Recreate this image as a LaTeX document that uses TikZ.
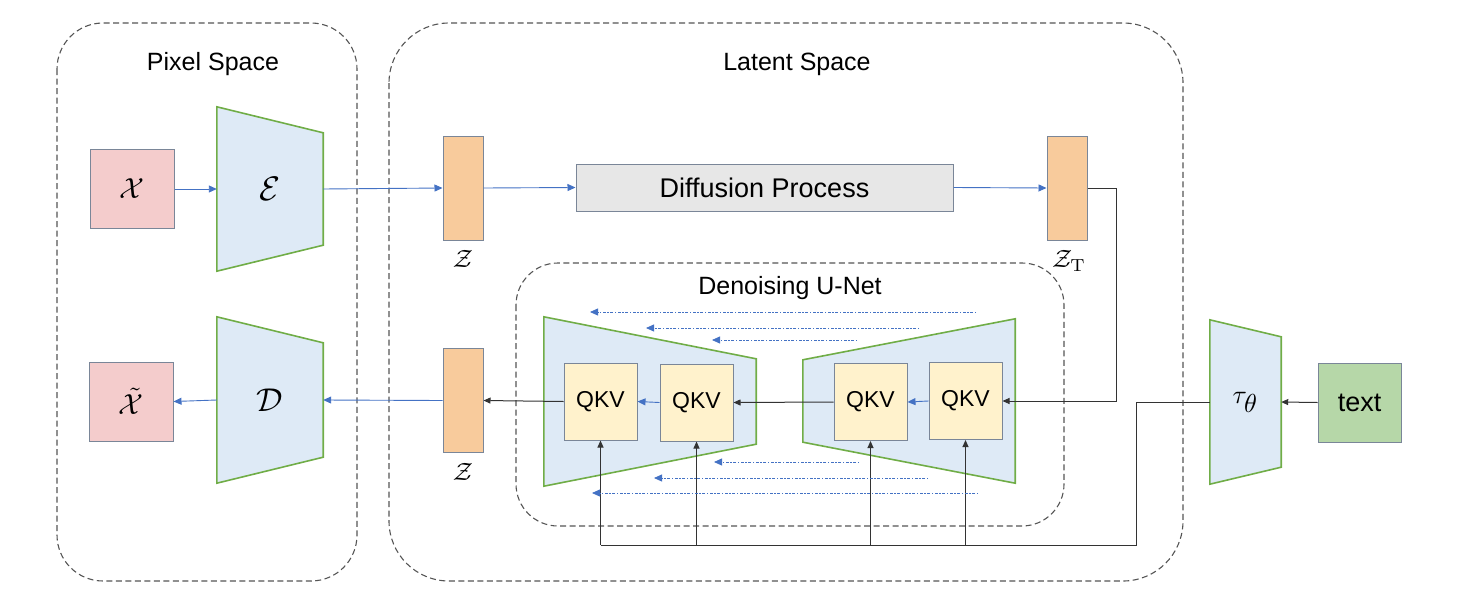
\documentclass[tikz,border=0pt]{standalone}
\usepackage[no-math]{fontspec}
\setmainfont{Liberation Sans}
\usetikzlibrary{arrows.meta,backgrounds}
\definecolor{pinkfill}{HTML}{F4CCCC}
\definecolor{boxedge}{HTML}{7A8698}
\definecolor{trapfill}{HTML}{DEEAF6}
\definecolor{trapedge}{HTML}{70AD47}
\definecolor{orangefill}{HTML}{F8CB9C}
\definecolor{qkvfill}{HTML}{FFF2CC}
\definecolor{textfill}{HTML}{B6D7A8}
\definecolor{difffill}{HTML}{E7E7E7}
\definecolor{arrowblue}{HTML}{4472C4}
\definecolor{dashgray}{HTML}{555555}
\newcommand{\scaledmath}[2]{\scalebox{#1}{$#2$}}
\begin{document}
\begin{tikzpicture}[x=1pt,y=-1pt,
  region/.style={draw=dashgray,line width=1.1pt,dash pattern=on 6pt off 3.5pt},
  lbl/.style={font=\fontsize{25}{28}\selectfont},
  sq/.style={draw=boxedge,line width=1pt,fill=pinkfill,minimum width=84pt,minimum height=79pt,inner sep=0pt},
  trapnode/.style={inner sep=0pt},
  trap/.style={draw=trapedge,line width=1.6pt,fill=trapfill},
  latent/.style={draw=boxedge,line width=1pt,fill=orangefill,minimum width=40pt,minimum height=104pt,inner sep=0pt},
  qkv/.style={draw=boxedge,line width=1pt,fill=qkvfill,minimum width=73pt,minimum height=77pt,inner sep=0pt,font=\fontsize{23}{26}\selectfont},
  zlbl/.style={inner sep=0pt},
  barrow/.style={draw=arrowblue,line width=0.9pt,-{Triangle[length=8pt,width=7pt]}},
  karrow/.style={draw=black!80,line width=1pt,-{Triangle[length=7pt,width=6pt]}},
  kline/.style={draw=black!80,line width=1pt},
  skip/.style={draw=arrowblue,line width=0.8pt,dash pattern=on 1.5pt off 1.5pt on 3pt off 1.5pt,-{Triangle[length=8pt,width=7pt]}}
]
\useasboundingbox (0,0) rectangle (1466,610);

% regions
\draw[region,rounded corners=46pt] (57,23) rectangle (357,581);
\draw[region,rounded corners=60pt] (389,23) rectangle (1183,581);
\draw[region,rounded corners=42pt] (516,263) rectangle (1064,526);
\node[lbl] (pixlbl) at (213,64) {Pixel Space};
\node[lbl] (latlbl) at (797,64) {Latent Space};
\node[lbl] (unetlbl) at (790,288) {Denoising U-Net};

% pixel space
\node[sq] (x) at (132,189) {\scaledmath{2.9}{\mathcal{X}}};
\node[sq] (xt) at (131,401.5) {\scaledmath{2.9}{\tilde{\mathcal{X}}}};
\node[trapnode,minimum width=106pt,minimum height=164pt] (enc) at (270,189) {\scaledmath{3.4}{\mathcal{E}}};
\node[trapnode,minimum width=106pt,minimum height=166pt] (dec) at (270,400) {\scaledmath{3.3}{\mathcal{D}}};

% latent space
\node[latent] (z1) at (463,188) {};
\node[zlbl] (z1l) at (463,259) {\scaledmath{2.5}{\mathcal{Z}}};
\node[draw=boxedge,line width=1pt,fill=difffill,minimum width=377pt,minimum height=47pt,inner sep=0pt,font=\fontsize{27}{30}\selectfont] (diff) at (764.5,187.5) {Diffusion Process};
\node[latent] (zT) at (1067,188) {};
\node[zlbl] (zTl) at (1069,261) {\scaledmath{2.5}{\mathcal{Z}_{\mathrm{T}}}};
\node[latent] (z2) at (463,400.5) {};
\node[zlbl] (z2l) at (463,472) {\scaledmath{2.5}{\mathcal{Z}}};

% U-Net
\node[trapnode,minimum width=212pt,minimum height=169pt] (ul) at (650,401.5) {};
\node[trapnode,minimum width=212pt,minimum height=164pt] (ur) at (909,401) {};
\node[qkv] (q1) at (600.5,401.5) {QKV};
\node[qkv] (q2) at (696.5,402.5) {QKV};
\node[qkv] (q3) at (870.5,402) {QKV};
\node[qkv] (q4) at (965.5,401) {QKV};

% conditioning
\node[trapnode,minimum width=71pt,minimum height=164pt] (tau) at (1245.5,402) {\raisebox{6pt}{\scaledmath{2.6}{\tau_{\textstyle\theta}}}};
\node[draw=boxedge,line width=1pt,fill=textfill,minimum width=83pt,minimum height=79pt,inner sep=0pt,font=\fontsize{27}{30}\selectfont] (text) at (1359.5,402.5) {text};

\begin{pgfonlayer}{background}
  \draw[trap] (enc.north west) -- ([yshift=-26pt]enc.north east) -- ([yshift=26pt]enc.south east) -- (enc.south west) -- cycle;
  \draw[trap] (dec.north west) -- ([yshift=-26pt]dec.north east) -- ([yshift=26pt]dec.south east) -- (dec.south west) -- cycle;
  \draw[trap] (ul.north west) -- ([yshift=-42pt]ul.north east) -- ([yshift=42pt]ul.south east) -- (ul.south west) -- cycle;
  \draw[trap] ([yshift=-41pt]ur.north west) -- (ur.north east) -- (ur.south east) -- ([yshift=41pt]ur.south west) -- cycle;
  \draw[trap] (tau.north west) -- ([yshift=-17pt]tau.north east) -- ([yshift=17pt]tau.south east) -- (tau.south west) -- cycle;
\end{pgfonlayer}

% encoder path
\draw[barrow] (x.east) -- (enc.west);
\draw[barrow] (enc.east) -- (z1.west);
\draw[barrow] (z1.east) -- (diff.west);
\draw[barrow] (diff.east) -- (zT.west);

% denoising path
\coordinate (c1) at (1116,401);
\draw[karrow] (zT.east) -| (c1) -- (q4.east);
\draw[barrow] (q4.west) -- (q3.east);
\draw[karrow] (q3.west) -- (q2.east);
\draw[barrow] (q2.west) -- (q1.east);
\draw[karrow] (q1.west) -- (z2.east);
\draw[barrow] (z2.west) -- (dec.east);
\draw[barrow] (dec.west) -- (xt.east);

% conditioning path
\draw[karrow] (text.west) -- (tau.east);
\coordinate (c2) at (1136,402);
\coordinate (c3) at (600.5,545);
\draw[kline] (tau.west) -- (c2) |- (c3);
\draw[karrow] (c3) -- (q1.south);
\draw[karrow] (q2.south |- c3) -- (q2.south);
\draw[karrow] (q3.south |- c3) -- (q3.south);
\draw[karrow] (q4.south |- c3) -- (q4.south);

% skip connections
\coordinate (s1a) at (976,312); \coordinate (s1b) at (590,312);
\coordinate (s2a) at (919,328); \coordinate (s2b) at (646,328);
\coordinate (s3a) at (857,340); \coordinate (s3b) at (712,340);
\coordinate (s4a) at (859,462); \coordinate (s4b) at (714,462);
\coordinate (s5a) at (928,478); \coordinate (s5b) at (654,478);
\coordinate (s6a) at (978,493); \coordinate (s6b) at (592,493);
\draw[skip] (s1a) -- (s1b);
\draw[skip] (s2a) -- (s2b);
\draw[skip] (s3a) -- (s3b);
\draw[skip] (s4a) -- (s4b);
\draw[skip] (s5a) -- (s5b);
\draw[skip] (s6a) -- (s6b);
\end{tikzpicture}
\end{document}
